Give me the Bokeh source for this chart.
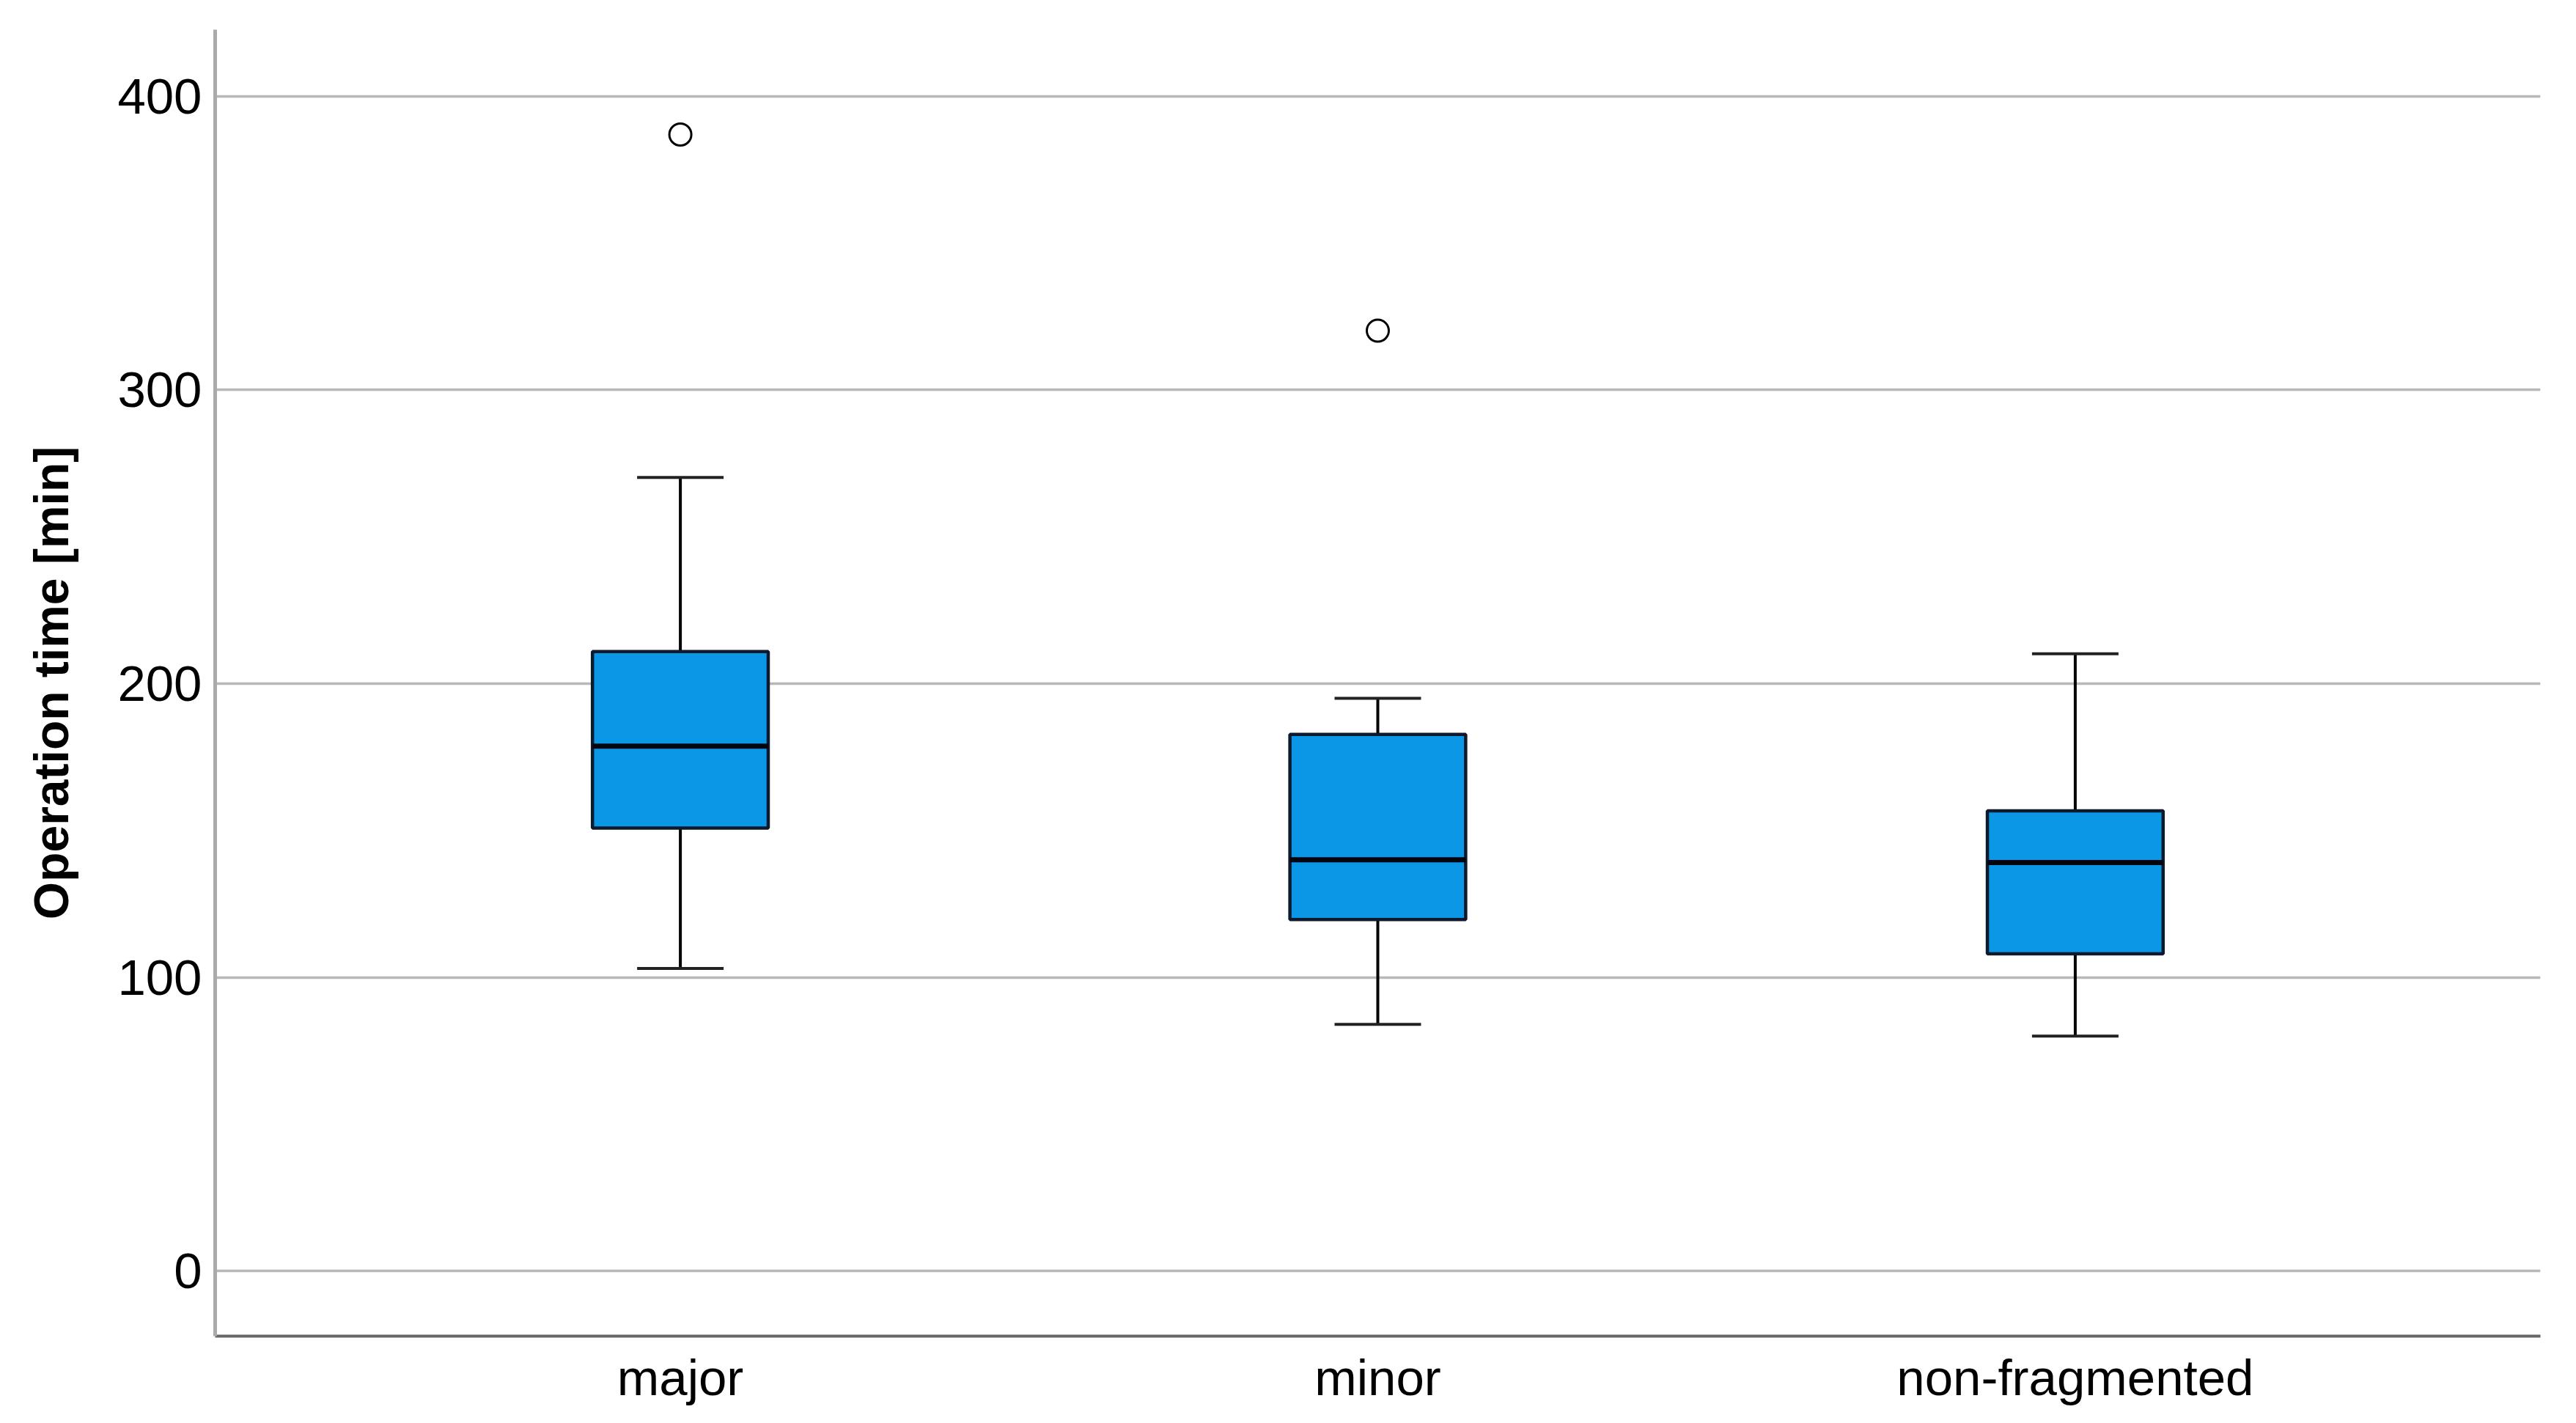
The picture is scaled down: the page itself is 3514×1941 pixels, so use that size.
from bokeh.plotting import figure
from bokeh.models import Range1d, FixedTicker, ColumnDataSource
from bokeh.embed import file_html
from bokeh.resources import INLINE

# ---- data ----
categories = ["major", "minor", "non-fragmented"]
positions = [1, 2, 3]
whisker_low = [103.0, 84.0, 80.0]
q1 = [150.8, 119.7, 108.0]
median = [178.7, 140.0, 139.1]
q3 = [210.9, 182.7, 156.7]
whisker_high = [270.2, 195.0, 210.2]
outlier_cat = [1, 2]
outlier_val = [387.0, 320.2]
y_ticks = [0, 100, 200, 300, 400]

BOX_W = 0.252
CAP_W = 0.124

p = figure(width=3498, height=1925, output_backend="svg", toolbar_location=None,
           x_range=Range1d(0.333, 3.667), y_range=Range1d(-22.2, 422.7),
           min_border_left=293, min_border_top=40, min_border_right=33, min_border_bottom=103)
p.outline_line_color = None
p.background_fill_color = "white"
p.border_fill_color = "white"

src = ColumnDataSource(dict(
    x=positions, lo=whisker_low, q1=q1, med=median, q3=q3, hi=whisker_high,
    bl=[v - BOX_W / 2 for v in positions], br=[v + BOX_W / 2 for v in positions],
    cl=[v - CAP_W / 2 for v in positions], cr=[v + CAP_W / 2 for v in positions],
))

# whiskers
p.segment(x0="x", y0="q3", x1="x", y1="hi", source=src, line_color="black", line_width=4)
p.segment(x0="x", y0="lo", x1="x", y1="q1", source=src, line_color="black", line_width=4)
# caps
p.segment(x0="cl", y0="hi", x1="cr", y1="hi", source=src, line_color="#222222", line_width=4)
p.segment(x0="cl", y0="lo", x1="cr", y1="lo", source=src, line_color="#222222", line_width=4)
# boxes
p.vbar(x="x", width=BOX_W, bottom="q1", top="q3", source=src,
       fill_color="#0A97E6", line_color="#0d1a2e", line_width=4.5)
# medians
p.segment(x0="bl", y0="med", x1="br", y1="med", source=src, line_color="#050510", line_width=7)
# outliers
p.scatter(x=outlier_cat, y=outlier_val, size=30, marker="circle",
          fill_color="white", line_color="black", line_width=3)

# axes
p.xaxis.ticker = FixedTicker(ticks=positions)
p.xaxis.major_label_overrides = {pos: lab for pos, lab in zip(positions, categories)}
p.yaxis.ticker = FixedTicker(ticks=y_ticks)

for ax in (p.xaxis[0], p.yaxis[0]):
    ax.major_tick_line_color = None
    ax.minor_tick_line_color = None
    ax.major_tick_out = 0
    ax.major_tick_in = 0
    ax.minor_tick_out = 0
    ax.minor_tick_in = 0
    ax.major_label_text_font = "Liberation Sans"
    ax.major_label_text_font_size = "69px"
    ax.major_label_text_color = "black"
    ax.major_label_standoff = 18

p.xaxis.axis_line_color = "#666666"
p.xaxis.axis_line_width = 4
p.yaxis.axis_line_color = "#aaaaaa"
p.yaxis.axis_line_width = 5

p.yaxis.axis_label = "Operation time [min]"
p.yaxis.axis_label_text_font = "Liberation Sans"
p.yaxis.axis_label_text_font_style = "bold"
p.yaxis.axis_label_text_font_size = "66px"
p.yaxis.axis_label_text_color = "black"
p.yaxis.axis_label_standoff = 50

p.xgrid.grid_line_color = None
p.ygrid.grid_line_color = "#b8b8b8"
p.ygrid.grid_line_width = 3.5

open("out.html", "w").write(file_html(p, INLINE))
